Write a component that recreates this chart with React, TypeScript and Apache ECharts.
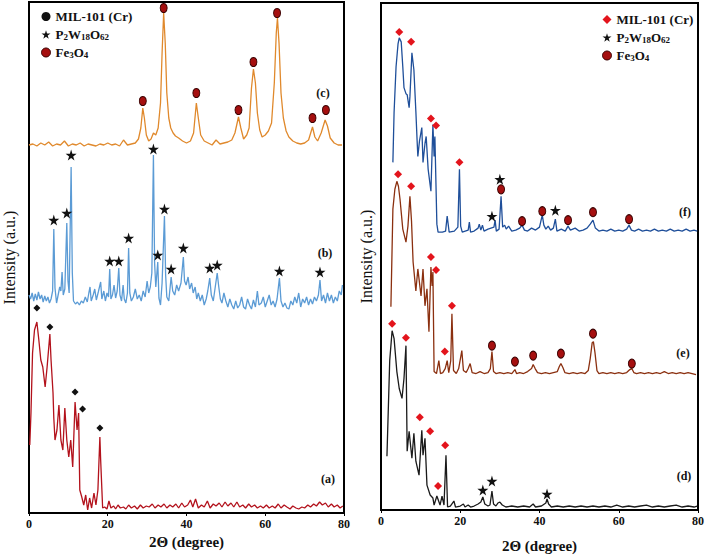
import React, { useEffect, useRef } from "react";
import * as echarts from "echarts";

const FONT = '"Liberation Serif", "Times New Roman", serif';

const legendNames = ["MIL-101 (Cr)", "P2W18O62", "Fe3O4"];
const traceLabels = ["(a)", "(b)", "(c)", "(d)", "(e)", "(f)"];

// Left panel (2θ in degrees, intensity in a.u.)
const traceC: number[][] = [
  [0,368],[1,369],[2,367],[3,370],[4,368],[5,371],[6,367],[7,369],[8,368],[9,372],[10,367],[11,369],[12,368],[13,370],[14,367],[15,369],[16,368],[17,367],[18,369],[19,368],[20,370],[21,368],[22,369],[23,367],[24,373],[25,368],[26,369],[27,370],[27.8,374],[28.4,385],[28.9,405],[29.3,395],[29.8,378],[30.4,372],[31,374],[31.6,380],[32.2,378],[32.8,385],[33.4,410],[33.8,460],[34.2,500],[34.6,470],[35,420],[35.5,395],[36,385],[36.6,380],[37.2,377],[38,375],[39,372],[40,370],[41,372],[41.8,380],[42.5,410],[43,395],[43.6,378],[44.5,372],[45.5,370],[46.5,368],[47.5,373],[48.5,369],[49.5,370],[50.5,371],[51.5,373],[52.3,380],[53.2,396],[53.8,385],[54.5,374],[55.3,378],[55.9,385],[56.5,425],[57,444],[57.5,430],[58,400],[58.6,383],[59.2,376],[60,378],[60.8,382],[61.6,390],[62.3,430],[62.8,480],[63.1,495],[63.5,470],[64,420],[64.6,395],[65.3,382],[66,376],[67,372],[68,370],[69,369],[70,370],[71,373],[72,386],[72.6,376],[73.3,372],[74.2,380],[75.2,393],[75.8,387],[76.5,375],[77.5,370],[78.5,368],[79.5,368]
];
const traceB: number[][] = [
  [0,218],[0.4,214],[0.8,220],[1.2,212],[1.6,219],[2,213],[2.4,221],[2.8,214],[3.2,218],[3.6,211],[4,217],[4.4,212],[4.8,216],[5.2,210],[5.6,214],[6,222],[6.3,284],[6.6,225],[7,210],[7.4,218],[7.8,226],[8.1,222],[8.4,241],[8.7,218],[9.1,224],[9.6,290],[9.9,232],[10.2,220],[10.7,346],[11,240],[11.3,212],[11.8,209],[12.3,211],[12.8,208],[13.3,212],[13.8,210],[14.3,216],[14.8,211],[15.2,220],[15.5,226],[15.8,212],[16.3,218],[16.7,224],[17.1,213],[17.6,221],[18.2,231],[18.5,214],[19,222],[19.4,212],[19.8,220],[20.2,216],[20.5,244],[20.8,214],[21.2,218],[21.6,228],[22,215],[22.4,222],[22.8,245],[23.1,218],[23.5,212],[23.9,228],[24.2,214],[24.6,210],[25,220],[25.3,265],[25.6,220],[26,212],[26.5,216],[27,224],[27.5,214],[28,218],[28.5,212],[29,222],[29.5,216],[30,232],[30.4,220],[30.8,226],[31.2,240],[31.6,358],[31.9,250],[32.2,226],[32.7,251],[33,215],[33.4,208],[33.8,230],[34.4,297],[34.7,238],[35,216],[35.5,212],[36.1,236],[36.5,222],[37,218],[37.5,228],[38,222],[38.6,230],[39.2,256],[39.5,232],[39.9,228],[40.4,236],[40.8,224],[41.3,230],[41.7,220],[42.2,226],[42.6,214],[43,220],[43.5,212],[44,218],[44.5,208],[45,214],[45.4,222],[45.9,235],[46.3,218],[46.8,212],[47.3,226],[47.8,240],[48.2,226],[48.6,214],[49,210],[49.5,220],[50,212],[50.5,206],[51,214],[51.5,208],[52,204],[52.5,212],[53,205],[53.5,208],[54,216],[54.5,206],[55,204],[55.5,214],[56,208],[56.5,204],[57,213],[57.5,206],[58,222],[58.4,208],[59,210],[59.5,216],[60,206],[60.5,212],[61,218],[61.5,208],[62,212],[62.5,206],[63,214],[63.6,235],[64,212],[64.5,206],[65,210],[65.5,205],[66,204],[66.5,212],[67,208],[67.5,216],[68,210],[68.5,220],[69,206],[69.5,214],[70,210],[70.5,216],[71,208],[71.5,214],[72,209],[72.5,216],[73,212],[73.5,218],[73.9,233],[74.3,212],[74.8,218],[75.3,210],[75.8,220],[76.3,212],[76.8,218],[77.3,210],[77.8,216],[78.3,212],[78.8,222],[79.3,218],[79.6,228]
];
const traceA: number[][] = [
  [0.2,68],[0.5,100],[0.9,160],[1.4,183],[2.0,191],[2.5,173],[3,153],[3.5,146],[4.1,126],[4.6,146],[5.3,179],[5.6,153],[6.1,120],[6.3,95],[6.6,73],[7.1,83],[7.6,108],[8.1,73],[8.6,63],[9.1,105],[9.6,73],[10.1,56],[10.6,73],[11.1,46],[11.7,111],[12.2,83],[12.6,100],[12.9,23],[13.4,16],[13.9,8],[14.4,18],[14.9,3],[15.4,15],[15.9,5],[16.5,20],[17,8],[17.5,23],[18,76],[18.2,53],[18.7,5],
  [19.2,6],[19.8,4],[20.3,12],[20.8,5],[21.5,7],[22,4],[22.6,8],[23.2,5],[24,6],[24.6,4],[25.3,8],[26,5],[26.8,7],[27.5,4],[28.3,8],[29,5],[29.8,7],[30.5,6],[31.3,9],[32,5],[32.8,8],[33.5,6],[34.3,9],[35,5],[35.8,8],[36.5,6],[37.3,9],[38,5],[38.8,10],[39.5,6],[40.3,8],[41,13],[41.6,6],[42.3,14],[43,5],[43.8,8],[44.5,6],[45.3,12],[46,5],[46.8,9],[47.5,7],[48.3,10],[49,6],[49.8,11],[50.5,7],[51.3,10],[52,6],[52.8,11],[53.5,6],[54.3,8],[55,5],[55.8,9],[56.5,6],[57.3,8],[58,5],[58.8,7],[59.5,5],[60.3,8],[61,5],[61.8,7],[62.5,5],[63.3,9],[64,5],[64.8,8],[65.5,6],[66.3,4],[67,7],[67.8,5],[68.5,4],[69.3,6],[70,5],[70.8,8],[71.5,6],[72.3,9],[73,7],[73.8,11],[74.5,8],[75.3,10],[76,6],[76.8,9],[77.5,6],[78.3,8],[79,5],[79.7,7]
];
const milLeft: number[][] = [[2.0,205],[5.3,186],[11.7,121],[13.6,104],[18,85]];
const starLeft: number[][] = [[6.3,293],[9.6,300],[10.7,358],[20.5,252],[22.8,252],[25.3,275],[31.6,364],[32.7,258],[34.4,304],[36.1,244],[39.2,265],[45.9,245],[47.8,248],[63.6,242],[73.9,241]];
const feLeft: number[][] = [[28.9,412],[34.2,505],[42.5,420],[53.2,403],[57,451],[63,500],[72,395],[75.4,403]];

// Right panel
const traceF: number[][] = [
  [3,349],[3.3,399],[3.8,445],[4.3,468],[4.6,474],[5.1,470],[5.5,445],[5.8,424],[6.3,418],[6.6,417],[7.1,404],[7.3,415],[7.8,459],[8.3,442],[8.8,400],[9.1,372],[9.3,355],[9.7,370],[10.3,384],[10.6,349],[11.1,368],[11.4,375],[11.9,342],[12.6,320],[13.1,387],[13.4,355],[13.6,375],[13.9,322],[14.1,287],[14.4,279],[15.5,279],[16.3,280],[16.7,295],[17.2,279],[18.5,280],[19.4,284],[19.8,342],[20.1,285],[20.5,279],[22,281],[22.3,289],[22.6,279],[23.5,280],[24.5,283],[24.8,287],[25.2,281],[25.6,286],[26,280],[27,282],[28.5,284],[28.8,291],[29.1,280],[29.8,282],[30.3,315],[30.7,284],[31.2,286],[31.6,282],[32.2,285],[33,280],[34,281],[35,283],[35.6,286],[36.2,281],[37,280],[38,283],[39,281],[40,284],[40.7,296],[41.1,286],[41.6,282],[42.2,285],[42.8,281],[43.5,283],[44,292],[44.4,280],[45.5,282],[46.5,280],[47.2,285],[47.8,281],[49,283],[50,280],[51,281],[52,283],[52.8,287],[53.5,291],[54.1,283],[55,280],[56,281],[57,280],[58,282],[59,280],[60,281],[61,280],[62,282],[62.6,286],[63.2,281],[64,280],[65,282],[66,280],[67,281],[68,280],[69,282],[70,280],[71,281],[72,280],[73,282],[74,280],[75,281],[76,280],[77,282],[78,280],[79,281],[79.8,280]
];
const traceE: number[][] = [
  [2.5,204],[3,302],[3.5,322],[4,330],[4.4,325],[4.8,312],[5.5,282],[6.3,269],[6.8,285],[7.3,315],[7.7,290],[8.1,249],[8.8,220],[9.3,242],[10.1,215],[10.6,242],[11.1,205],[11.6,222],[12.1,179],[12.6,244],[12.9,225],[13.1,239],[13.4,139],[14,137],[14.6,150],[15,137],[15.6,138],[16.2,142],[16.7,150],[17.1,138],[17.6,150],[17.9,197],[18.3,140],[19,137],[19.6,142],[20.4,160],[20.8,140],[21.5,138],[22,142],[22.5,147],[23,138],[24,137],[25,139],[26,137],[27,138],[27.6,142],[28,159],[28.4,139],[29,137],[30,138],[31,137],[32,138],[33,137],[33.8,141],[34.2,137],[35,138],[36,137],[37,139],[38,142],[38.4,146],[38.9,142],[39.5,138],[40.5,137],[41.5,138],[42.5,137],[43.5,138],[44.5,139],[45,144],[45.4,147],[45.9,143],[46.4,138],[47.5,137],[48.5,138],[49.5,137],[50.5,138],[51.5,137],[52.3,140],[52.8,152],[53.3,168],[53.6,169],[54,158],[54.5,140],[55,137],[56,138],[57,137],[58,138],[59,137],[60,138],[61,137],[62,138],[62.8,141],[63.3,142],[63.8,138],[64.5,137],[65.5,138],[66.5,137],[67.5,138],[68.5,137],[69.5,138],[70.5,137],[71.5,139],[72.5,137],[73.5,138],[74.5,137],[75.5,138],[76.5,137],[77.5,138],[78.5,137],[79.5,136]
];
const traceD: number[][] = [
  [1.5,54],[2.2,150],[2.8,180],[3.3,172],[4.0,139],[4.6,122],[5.3,112],[5.8,132],[6.3,165],[6.6,59],[7.1,79],[7.8,52],[8.3,77],[8.8,49],[9.6,35],[10.3,80],[10.6,55],[11.1,72],[11.6,25],[12.4,15],[13.1,12],[13.4,5],[14.1,14],[14.9,5],[15.4,14],[15.9,5],[16.4,55],[16.8,3],[17.5,4],[18.4,9],[18.8,3],[20,4],[20.8,6],[21.2,3],[22,5],[22.6,3],[23.5,4],[24.5,6],[25.2,8],[25.7,13],[26.2,6],[27,4],[27.5,5],[28,19],[28.4,6],[29,4],[29.5,7],[30,8],[30.6,5],[31.5,3],[33,4],[34.5,3],[36,4],[37.5,3],[38.4,6],[39,3],[40.5,4],[41.6,7],[41.9,11],[42.3,6],[43,3],[44.5,4],[46,3],[47.5,4],[49,3],[50.5,4],[52,3],[53.5,4],[55,3],[56.5,4],[58,3],[59.5,5],[61,3],[62.5,4],[64,3],[65.5,4],[67,5],[68.5,3],[70,4],[71.5,3],[73,4],[74.5,5],[76,3],[77.5,4],[79,3],[79.8,4]
];
const milRight: number[][] = [[4.6,480],[7.6,470],[12.6,393],[13.9,386],[19.8,349],[4.3,337],[7.6,325],[12.6,254],[13.9,241],[16.1,159],[17.9,205],[2.8,187],[6.3,173],[9.8,93],[12.4,79],[14.4,24],[16.2,65]];
const starRight: number[][] = [[28,295],[30,332],[44,301],[25.7,20],[28,29],[41.9,16]];
const feRight: number[][] = [[30.3,322],[35.6,290],[40.7,300],[47.2,291],[53.5,299],[62.6,292],[28,165],[33.8,149],[38.4,155],[45.4,157],[53.5,177],[63.3,147]];

const STAR = "path://M50,0 L61,35 L98,35 L68,57 L79,91 L50,70 L21,91 L32,57 L2,35 L39,35 Z";

const rich = {
  b: { fontFamily: FONT, fontWeight: "bold", fontSize: 13, color: "#111", verticalAlign: "bottom" },
  s: { fontFamily: FONT, fontWeight: "bold", fontSize: 9, color: "#111", verticalAlign: "bottom" },
};
const fmt = (name: string) => {
  if (name === "P2W18O62") return "{b|P}{s|2}{b|W}{s|18}{b|O}{s|62}";
  if (name === "Fe3O4") return "{b|Fe}{s|3}{b|O}{s|4}";
  return "{b|" + name + "}";
};

export default function App() {
  const ref = useRef<HTMLDivElement>(null);
  useEffect(() => {
    if (!ref.current) return;
    const chart = echarts.init(ref.current, null, { renderer: "svg" });
    const axisX = (gi: number, gap: number) => ({
      type: "value", gridIndex: gi, min: 0, max: 80, interval: 20,
      name: "2\u0398 (degree)", nameLocation: "middle", nameGap: gap,
      nameTextStyle: { fontFamily: FONT, fontWeight: "bold", fontSize: 15, color: "#111" },
      axisLine: { show: true, lineStyle: { color: "#000", width: 2 } },
      axisTick: { show: true, length: 3, lineStyle: { color: "#000" } },
      axisLabel: { fontFamily: FONT, fontWeight: "bold", fontSize: 12, color: "#111", margin: 5 },
      splitLine: { show: false },
    });
    const axisY = (gi: number, max: number, gap: number) => ({
      type: "value", gridIndex: gi, min: 0, max,
      name: "Intensity (a.u.)", nameLocation: "middle", nameGap: gap,
      nameTextStyle: { fontFamily: FONT, fontSize: 16, color: "#111" },
      axisLine: { show: true, lineStyle: { color: "#000", width: 2 } },
      axisTick: { show: false }, axisLabel: { show: false }, splitLine: { show: false },
    });
    const line = (name: string, data: number[][], color: string, gi: number) => ({
      type: "line", name, data, xAxisIndex: gi, yAxisIndex: gi, showSymbol: false, symbol: "none",
      lineStyle: { color, width: 1.3 }, z: 2,
    });
    const scat = (name: string, data: number[][], gi: number, symbol: string, size: any, color: string, border?: string) => ({
      type: "scatter", name, data, xAxisIndex: gi, yAxisIndex: gi, symbol, symbolSize: size,
      itemStyle: { color, borderColor: border || color, borderWidth: border ? 1 : 0, opacity: 1 }, z: 5,
    });
    const legendBase = {
      orient: "vertical", itemWidth: 9, itemHeight: 9, itemGap: 5, selectedMode: false,
      formatter: fmt, textStyle: { rich },
    };
    const labelText = (t: string, x: number, y: number) => ({
      type: "text", x, y, style: { text: t, font: "bold 12px " + FONT, fill: "#111", textAlign: "center", textVerticalAlign: "middle" },
    });
    chart.setOption({
      animation: false,
      backgroundColor: "#fff",
      grid: [
        { left: 28, top: 2, width: 316, height: 511, show: true, borderColor: "#000", borderWidth: 2 },
        { left: 381, top: 3, width: 317, height: 509, show: true, borderColor: "#000", borderWidth: 2 },
      ],
      xAxis: [axisX(0, 21), axisX(1, 28)],
      yAxis: [axisY(0, 511, 12), axisY(1, 509, 7)],
      legend: [
        {
          ...legendBase, left: 36, top: 5,
          data: [
            { name: legendNames[0], icon: "circle", itemStyle: { color: "#111" } },
            { name: legendNames[1], icon: STAR, itemStyle: { color: "#111" } },
            { name: legendNames[2], icon: "circle", itemStyle: { color: "#a50f0f", borderColor: "#3a0000", borderWidth: 1 } },
          ],
        },
        {
          ...legendBase, left: 597, top: 8,
          data: [
            { name: legendNames[0], icon: "diamond", itemStyle: { color: "#e3141c" } },
            { name: legendNames[1], icon: STAR, itemStyle: { color: "#111" } },
            { name: legendNames[2], icon: "circle", itemStyle: { color: "#a50f0f", borderColor: "#3a0000", borderWidth: 1 } },
          ],
        },
      ],
      series: [
        line("c", traceC, "#e0892c", 0),
        line("b", traceB, "#5b9bd5", 0),
        line("a", traceA, "#b3121c", 0),
        line("f", traceF, "#1f4f9a", 1),
        line("e", traceE, "#8b3010", 1),
        line("d", traceD, "#1a1a1a", 1),
        scat(legendNames[0], milLeft, 0, "diamond", 7, "#111"),
        scat(legendNames[1], starLeft, 0, STAR, 11, "#111"),
        scat(legendNames[2], feLeft, 0, "circle", [7, 9], "#a50f0f", "#3a0000"),
        scat(legendNames[0], milRight, 1, "diamond", 8, "#e3141c"),
        scat(legendNames[1], starRight, 1, STAR, 11, "#111"),
        scat(legendNames[2], feRight, 1, "circle", [7, 9], "#a50f0f", "#3a0000"),
      ],
      graphic: [
        labelText(traceLabels[2], 323, 93),
        labelText(traceLabels[1], 325, 253),
        labelText(traceLabels[0], 328, 479),
        labelText(traceLabels[5], 685, 212),
        labelText(traceLabels[4], 683, 353),
        labelText(traceLabels[3], 684, 476),
      ],
    });
    return () => chart.dispose();
  }, []);
  return <div ref={ref} style={{ position: "fixed", left: 0, top: 0, width: 709, height: 558, background: "#fff" }} />;
}
